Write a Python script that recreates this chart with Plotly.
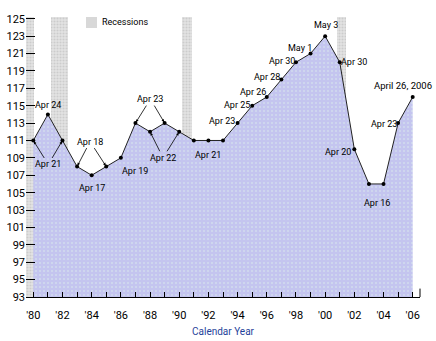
import plotly.graph_objects as go

# ---- data ----
years = list(range(1980, 2007))
values = [111, 114, 111, 108, 107, 108, 109, 113, 112, 113, 112, 111, 111, 111,
          113, 115, 116, 118, 120, 121, 123, 120, 110, 106, 106, 113, 116]
recession_start = [1979.5, 1981.2, 1990.2, 2000.8]
recession_end = [1980.05, 1982.35, 1990.85, 2001.42]
y_ticks = list(range(93, 126, 2))
x_tick_text = ["'%02d" % (y % 100) if y % 2 == 0 else "" for y in years]

# labels: (year, text, xshift, yshift, size, xanchor)
plain_labels = [
    (1981, "Apr 24", 0, 9, 9, "center"),
    (1984, "Apr 17", 0, -13, 9, "center"),
    (1986, "Apr 19", 14, -13, 9, "center"),
    (1992, "Apr 21", 0, -15, 9, "center"),
    (1994, "Apr 23", -16, 2, 9, "center"),
    (1995, "Apr 25", -15, 1, 9, "center"),
    (1996, "Apr 26", -14, 5, 9, "center"),
    (1997, "Apr 28", -14, 3, 9, "center"),
    (1998, "Apr 30", -14, 1, 9, "center"),
    (1999, "May 1", -11, 6, 9, "center"),
    (2000, "May 3", 1, 11, 9, "center"),
    (2001, "Apr 30", 14, 0, 9, "center"),
    (2002, "Apr 20", -16, -3, 9, "center"),
    (2003, "Apr 16", 8, -19, 9, "center"),
    (2005, "Apr 23", -14, -1, 9, "center"),
    (2006, "April 26, 2006", 21, 12, 9.5, "right"),
]
# paired labels with arrows: (text, year_a, year_b, text x offset from a (px), text y offset (px))
arrow_labels = [
    ("Apr 21", 1980, 1982, 15, 24),
    ("Apr 18", 1983, 1985, 13, -25),
    ("Apr 23", 1987, 1989, 15, -24),
    ("Apr 22", 1988, 1990, 13, 26),
]

FONT = "Roboto, Lato, sans-serif"
Y_MIN, Y_MAX = 93, 125.2
X_MIN, X_MAX = 1979.5, 2006.5
L, R, T, B = 26, 16, 17, 44
PLOT_H = 341 - T - B
PLOT_W = 436 - L - R
PX_PER_YEAR = PLOT_W / (X_MAX - X_MIN)

fig = go.Figure()

# recession bands
fig.add_trace(go.Bar(
    x=[(a + b) / 2 for a, b in zip(recession_start, recession_end)],
    width=[b - a for a, b in zip(recession_start, recession_end)],
    y=[Y_MAX - Y_MIN] * len(recession_start),
    base=Y_MIN,
    marker=dict(color="#dcdcdc", line=dict(width=0),
                pattern=dict(shape=".", fgcolor="#b4b4b4", bgcolor="#e4e4e4", size=3, solidity=0.4)),
    name="Recessions", showlegend=False, hoverinfo="skip",
))

# area
fig.add_trace(go.Scatter(
    x=years, y=values, mode="lines+markers",
    line=dict(color="#222222", width=1),
    marker=dict(color="#000000", size=4),
    fill="tozeroy", fillcolor="#c8c9ef",
    fillpattern=dict(shape=".", fgcolor="#dff2ee", bgcolor="#c4c5ef", size=4, solidity=0.2),
    showlegend=False,
))

annotations = []
vals = dict(zip(years, values))
for yr, txt, xs, ys, sz, xa in plain_labels:
    annotations.append(dict(x=yr, y=vals[yr], text=txt, showarrow=False, xanchor=xa,
                            xshift=xs, yshift=ys, font=dict(size=sz, color="#000000", family=FONT)))

for txt, ya, yb, dx, dy in arrow_labels:
    dx_b = dx - (yb - ya) * PX_PER_YEAR
    for yr, ax, col in ((yb, dx_b, "rgba(0,0,0,0)"), (ya, dx, "#000000")):
        annotations.append(dict(x=yr, y=vals[yr], text=txt, showarrow=True,
                                ax=ax, ay=dy, arrowhead=2, arrowsize=0.7, arrowwidth=0.8,
                                arrowcolor="#000000", standoff=1,
                                font=dict(size=9, color=col, family=FONT)))

# legend (manual)
annotations.append(dict(x=(100 - L) / PLOT_W, y=(341 - B - 22) / PLOT_H, xref="paper", yref="paper",
                        text="Recessions", showarrow=False, xanchor="left", yanchor="middle",
                        font=dict(size=9, color="#000000", family=FONT)))
annotations.append(dict(x=0.5, y=-(331 - (341 - B)) / PLOT_H, xref="paper", yref="paper",
                        text="Calendar Year", showarrow=False, yanchor="middle",
                        font=dict(size=10, color="#1f3f9a", family=FONT)))

fig.update_layout(
    width=436, height=341,
    margin=dict(l=L, r=R, t=T, b=B),
    paper_bgcolor="white", plot_bgcolor="white",
    barmode="overlay", bargap=0,
    font=dict(family=FONT, color="#000000"),
    showlegend=False,
    annotations=annotations,
    shapes=[
        dict(type="line", xref="x domain", yref="y domain", x0=1, x1=1, y0=0, y1=0.03,
             line=dict(color="#000000", width=1)),
        dict(type="rect", xref="paper", yref="paper",
             x0=(86 - L) / PLOT_W, x1=(97 - L) / PLOT_W,
             y0=(341 - B - 28) / PLOT_H, y1=(341 - B - 17) / PLOT_H,
             fillcolor="#d8d8d8", line=dict(width=0)),
    ],
)
fig.update_xaxes(
    range=[X_MIN, X_MAX], tickvals=years, ticktext=x_tick_text,
    ticks="inside", ticklen=5, tickcolor="#000000", tickwidth=1,
    showline=True, linecolor="#000000", linewidth=1,
    showgrid=False, zeroline=False, ticklabelstandoff=8, automargin=False,
    tickfont=dict(size=11, family=FONT),
)
fig.update_yaxes(
    range=[Y_MIN, Y_MAX], tickvals=y_ticks,
    ticks="inside", ticklen=9, tickcolor="#000000", tickwidth=1,
    showline=False, showgrid=False, zeroline=False, automargin=False,
    tickfont=dict(size=11, family=FONT),
)

fig.write_html("out.html")
